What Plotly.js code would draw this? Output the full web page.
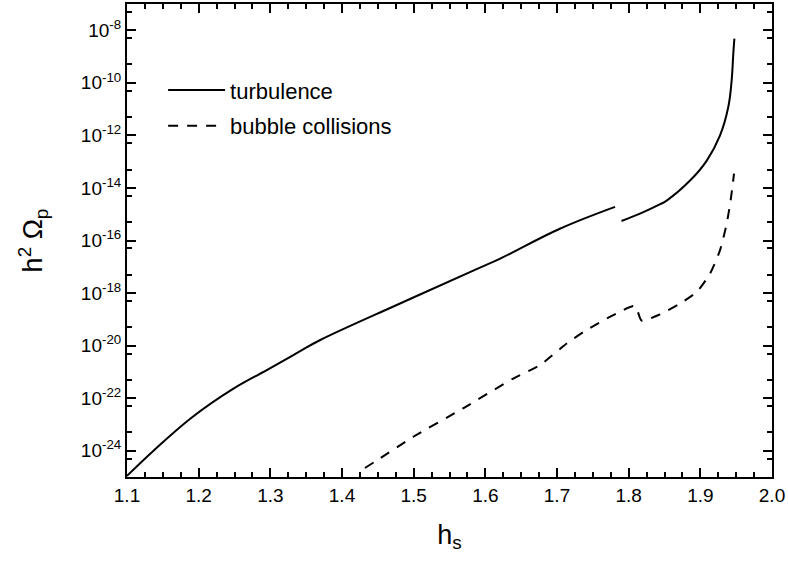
<!DOCTYPE html>
<html>
<head>
<meta charset="utf-8">
<script src="https://cdn.plot.ly/plotly-3.0.1.min.js"></script>
<style>html,body{margin:0;padding:0;background:#fff;}#chart{width:788px;height:563px;}</style>
</head>
<body>
<div id="chart"></div>
<script>
// turbulence, lower branch
var turbLowX = [1.100, 1.137, 1.190, 1.248, 1.300, 1.341, 1.369, 1.481, 1.5925, 1.620, 1.704, 1.781];
var turbLowY = [1.1e-25, 1.0e-24, 1.8e-23, 2.25e-22, 1.38e-21, 6.0e-21, 1.6e-20, 4.0e-19, 9.3e-18, 2.0e-17, 2.8e-16, 1.9e-15];
// turbulence, upper branch
var turbHighX = [1.790, 1.8158, 1.844, 1.853, 1.886, 1.909, 1.9275, 1.939, 1.9437, 1.946, 1.9475];
var turbHighY = [5.5e-16, 1.05e-15, 2.4e-15, 3.3e-15, 1.95e-14, 1.1e-13, 1.0e-12, 1.2e-11, 1.25e-10, 1.3e-9, 4.8e-9];
// bubble collisions
var bubbleX = [1.432, 1.453, 1.4995, 1.569, 1.639, 1.676, 1.7135, 1.741, 1.7786, 1.809, 1.818, 1.8437, 1.8716, 1.8949, 1.9135, 1.9275, 1.9368, 1.9423, 1.947];
var bubbleY = [2.2e-25, 5.1e-25, 3.4e-24, 4.1e-23, 5.6e-22, 1.8e-21, 1.2e-20, 3.9e-20, 1.45e-19, 3.2e-19, 9.0e-20, 1.55e-19, 4.0e-19, 1.1e-18, 5.5e-18, 4.3e-17, 4.4e-16, 3.4e-15, 3.5e-14];

var seriesNames = ["turbulence", "bubble collisions"];

// y tick marks / labels
var yLabelVals = [1e-24, 1e-22, 1e-20, 1e-18, 1e-16, 1e-14, 1e-12, 1e-10, 1e-8];
var yLabelText = ["10<sup>-24</sup>", "10<sup>-22</sup>", "10<sup>-20</sup>", "10<sup>-18</sup>", "10<sup>-16</sup>", "10<sup>-14</sup>", "10<sup>-12</sup>", "10<sup>-10</sup>", "10<sup>-8</sup>"];
var yOddDecades = [1e-23, 1e-21, 1e-19, 1e-17, 1e-15, 1e-13, 1e-11, 1e-9];
var yMinorVals = [5e-25, 5e-24, 5e-23, 5e-22, 5e-21, 5e-20, 5e-19, 5e-18, 5e-17, 5e-16, 5e-15, 5e-14, 5e-13, 5e-12, 5e-11, 5e-10, 5e-9, 5e-8];
var xTickVals = [1.1, 1.2, 1.3, 1.4, 1.5, 1.6, 1.7, 1.8, 1.9, 2.0];
var xTickText = ["1.1", "1.2", "1.3", "1.4", "1.5", "1.6", "1.7", "1.8", "1.9", "2.0"];

var FONT = "Liberation Sans, Arial, Helvetica, sans-serif";

var traces = [
  {x: turbLowX, y: turbLowY, mode: "lines", name: seriesNames[0], legendgroup: "a",
   line: {color: "#000", width: 2, shape: "spline", smoothing: 1.1}},
  {x: turbHighX, y: turbHighY, mode: "lines", name: seriesNames[0], legendgroup: "a", showlegend: false,
   line: {color: "#000", width: 2, shape: "spline", smoothing: 1.1}},
  {x: bubbleX, y: bubbleY, mode: "lines", name: seriesNames[1], legendgroup: "b",
   line: {color: "#000", width: 2, dash: "10px,9px", shape: "spline", smoothing: 0.6}}
];

var layout = {
  width: 788, height: 563,
  margin: {l: 127, r: 16, t: 4, b: 86},
  paper_bgcolor: "#fff", plot_bgcolor: "#fff",
  font: {family: FONT, color: "#000", size: 19},
  showlegend: true,
  legend: {x: 0.056, y: 0.862, xanchor: "left", yanchor: "top", bgcolor: "rgba(0,0,0,0)",
           font: {size: 22, family: FONT}, tracegroupgap: 4, itemwidth: 57},
  xaxis: {
    range: [1.1, 2.0], tickmode: "array", tickvals: xTickVals, ticktext: xTickText,
    ticks: "inside", ticklen: 9, tickwidth: 2, tickcolor: "#000",
    showline: true, linewidth: 2, linecolor: "#000", mirror: "ticks",
    showgrid: false, zeroline: false,
    minor: {dtick: 0.025, tick0: 1.1, ticks: "inside", ticklen: 5, tickwidth: 2, tickcolor: "#000", showgrid: false},
    tickfont: {size: 19, family: FONT},
    title: {text: "h<sub>s</sub>", font: {size: 27, family: FONT}, standoff: 20}
  },
  yaxis: {
    type: "log", range: [-25, -7], tickmode: "array", tickvals: yLabelVals, ticktext: yLabelText,
    ticks: "inside", ticklen: 9, tickwidth: 2, tickcolor: "#000",
    showline: true, linewidth: 2, linecolor: "#000", mirror: "ticks",
    showgrid: false, zeroline: false,
    minor: {tickmode: "array", tickvals: yMinorVals, ticks: "inside", ticklen: 5, tickwidth: 2, tickcolor: "#000", showgrid: false},
    tickfont: {size: 19, family: FONT},
    title: {text: "h<sup>2</sup> Ω<sub>p</sub>", font: {size: 27, family: FONT}, standoff: 30}
  },
  yaxis2: {
    type: "log", range: [-25, -7], overlaying: "y", anchor: "x", side: "left",
    tickmode: "array", tickvals: yOddDecades, showticklabels: false,
    ticks: "inside", ticklen: 9, tickwidth: 2, tickcolor: "#000",
    showline: false, mirror: "ticks", showgrid: false, zeroline: false
  }
};

Plotly.newPlot("chart", traces, layout, {staticPlot: true, displayModeBar: false});
</script>
</body>
</html>
